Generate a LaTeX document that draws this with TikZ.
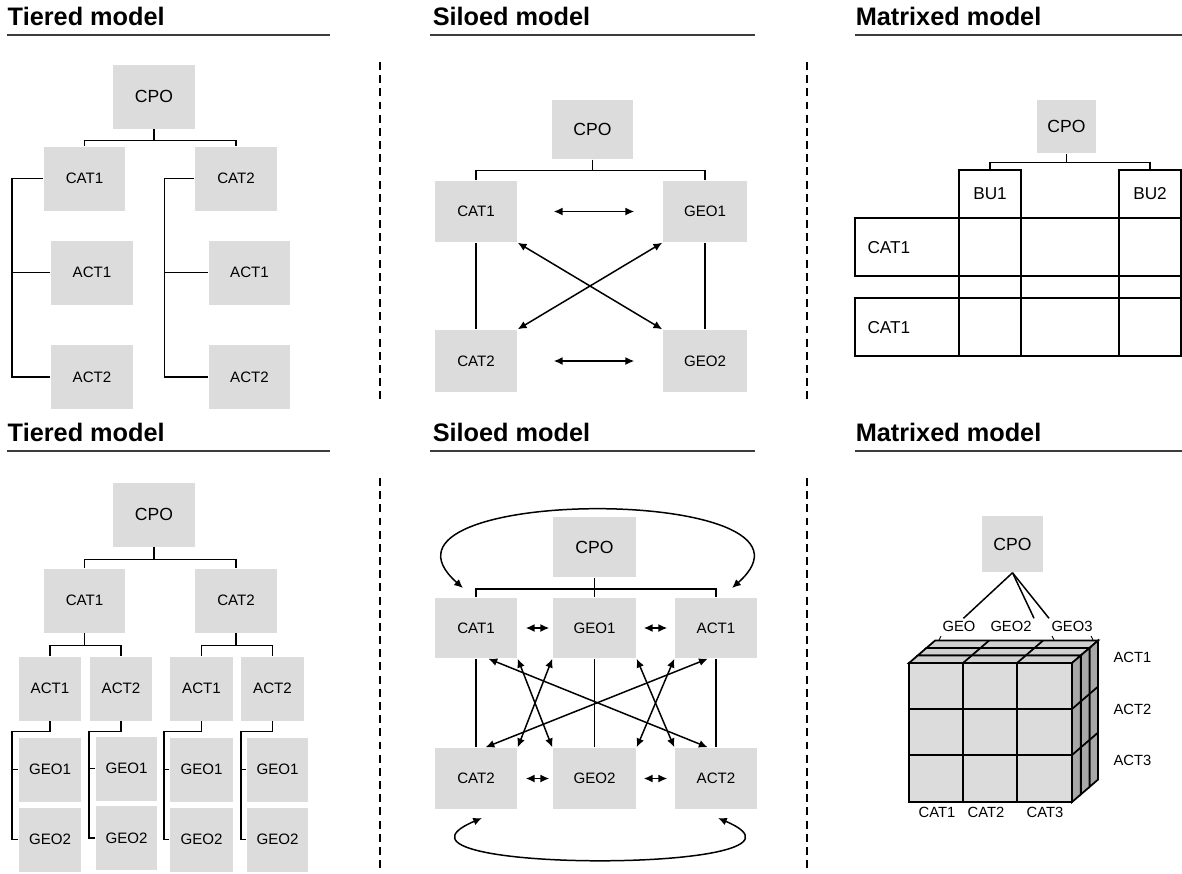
\documentclass[tikz,border=0pt]{standalone}
\usepackage{fontspec}
\setmainfont{Liberation Sans}
\usetikzlibrary{arrows.meta}
\definecolor{boxgray}{RGB}{220,220,220}
\definecolor{topgray}{RGB}{208,208,208}
\definecolor{sidegray}{RGB}{168,168,168}
\definecolor{rulegray}{RGB}{60,60,60}
\tikzset{
  box/.style={fill=boxgray, inner sep=0pt, minimum width=1.64cm, minimum height=1.28cm, font=\fontsize{8.6}{10}\selectfont},
  smallbox/.style={box, minimum width=1.26cm},
  bigtext/.style={font=\fontsize{10}{12}\selectfont},
  heading/.style={anchor=base west, inner sep=0pt, font=\fontsize{14.4}{16}\selectfont\bfseries},
  headrule/.style={line width=1.4pt, rulegray},
  divider/.style={dash pattern=on 4.5pt off 3pt, line width=0.7pt},
  lbl/.style={inner sep=1pt, font=\fontsize{8.4}{10}\selectfont},
  cell/.style={draw, inner sep=0pt, minimum width=1.24cm, minimum height=0.96cm, font=\fontsize{9.8}{11}\selectfont},
  twoway/.style={{Latex[length=5pt,width=4.5pt]}-{Latex[length=5pt,width=4.5pt]}},
}
\begin{document}
\begin{tikzpicture}[x=0.02cm, y=-0.02cm, line width=0.85pt]
\useasboundingbox (0,0) rectangle (1182,873);
\foreach \hx/\hy/\htext in {7/25/Tiered model, 432/25/Siloed model, 855/25/Matrixed model,
  7/441/Tiered model, 432/441/Siloed model, 855/441/Matrixed model}
\node[heading] (head-\hx-\hy) at (\hx,\hy) {\htext};
\foreach \ux/\uy/\uend in {7/35/330, 430/35/755, 855/35/1182, 7/451/330, 430/451/755, 855/451/1182}
\draw[headrule] (\ux,\uy) -- (\uend,\uy);
\foreach \dx in {380,807} {
\draw[divider] (\dx,62) -- (\dx,400);
\draw[divider] (\dx,478) -- (\dx,873);
}

% tiered, top
\node[box, bigtext] (a_cpo) at (154,96.5) {CPO};
\node[box] (a_cat1) at (84.5,178.5) {CAT1};
\node[box] (a_cat2) at (236,178.5) {CAT2};
\node[box] (a_act11) at (92,272.5) {ACT1};
\node[box] (a_act12) at (92,377) {ACT2};
\node[box] (a_act21) at (249.5,272.5) {ACT1};
\node[box] (a_act22) at (249.5,377) {ACT2};
\draw (a_cpo.south) -- ++(0,11) coordinate (a_bus);
\draw (a_cat1.north) |- (a_bus) -| (a_cat2.north);
\draw (a_cat1.west) -- ++(-31,0) coordinate (a_l1) |- (a_act12.west);
\draw (a_act11.west) -- (a_act11.west -| a_l1);
\draw (a_cat2.west) -- ++(-30,0) coordinate (a_l2) |- (a_act22.west);
\draw (a_act21.west) -- (a_act21.west -| a_l2);

% siloed, top
\node[box, bigtext, minimum width=1.62cm, minimum height=1.18cm] (b_cpo) at (592.5,129.5) {CPO};
\node[box, minimum height=1.22cm] (b_cat1) at (476,211.5) {CAT1};
\node[box, minimum height=1.22cm, minimum width=1.68cm] (b_geo1) at (705,211.5) {GEO1};
\node[box, minimum height=1.24cm] (b_cat2) at (476,361) {CAT2};
\node[box, minimum height=1.24cm, minimum width=1.68cm] (b_geo2) at (705,361) {GEO2};
\draw (b_cpo.south) -- ++(0,11) coordinate (b_bus);
\draw (b_cat1.north) |- (b_bus) -| (b_geo1.north);
\draw (b_cat1) -- (b_cat2);
\draw (b_geo1) -- (b_geo2);
\draw[twoway, shorten <=0.72cm, shorten >=0.56cm] (b_cat1) -- (b_geo1);
\draw[twoway, shorten <=0.72cm, shorten >=0.56cm] (b_cat2) -- (b_geo2);
\draw[twoway] (b_cat1.south east) -- (b_geo2.north west);
\draw[twoway] (b_geo1.south west) -- (b_cat2.north east);

% matrixed, top
\node[box, bigtext, minimum width=1.18cm, minimum height=1.06cm] (c_cpo) at (1066.5,126.5) {CPO};
\node[cell] (c_bu1) at (990,194) {BU1};
\node[cell] (c_bu2) at (1150,194) {BU2};
\draw (c_cpo.south) -- ++(0,9) coordinate (c_bus);
\draw (c_bu1.north) |- (c_bus) -| (c_bu2.north);
\draw (855,218) rectangle (1181,276);
\draw (855,298) rectangle (1181,356);
\foreach \gx in {959,1021,1119,1181}
\draw (\gx,218) -- (\gx,356);
\node[lbl, anchor=west, font=\fontsize{9.8}{11}\selectfont] (c_row1) at (865,248) {CAT1};
\node[lbl, anchor=west, font=\fontsize{9.8}{11}\selectfont] (c_row2) at (865,328) {CAT1};

% tiered, bottom
\node[box, bigtext] (d_cpo) at (154,514.5) {CPO};
\node[box] (d_cat1) at (84.5,600.5) {CAT1};
\node[box] (d_cat2) at (236,600.5) {CAT2};
\node[smallbox] (d_act11) at (50,688.5) {ACT1};
\node[smallbox] (d_act12) at (121,688.5) {ACT2};
\node[smallbox] (d_act21) at (201.5,688.5) {ACT1};
\node[smallbox] (d_act22) at (272.5,688.5) {ACT2};
\node[smallbox] (d_geo111) at (50,769.5) {GEO1};
\node[smallbox] (d_geo112) at (50,839.5) {GEO2};
\node[smallbox, minimum width=1.22cm] (d_geo121) at (126.5,768.5) {GEO1};
\node[smallbox, minimum width=1.22cm] (d_geo122) at (126.5,838) {GEO2};
\node[smallbox] (d_geo211) at (201.5,769.5) {GEO1};
\node[smallbox] (d_geo212) at (201.5,839.5) {GEO2};
\node[smallbox, minimum width=1.22cm] (d_geo221) at (277.5,769.5) {GEO1};
\node[smallbox, minimum width=1.22cm] (d_geo222) at (277.5,839.5) {GEO2};
\draw (d_cpo.south) -- ++(0,12) coordinate (d_bus);
\draw (d_cat1.north) |- (d_bus) -| (d_cat2.north);
\draw (d_cat1.south) -- ++(0,12) coordinate (d_bus1);
\draw (d_act11.north) |- (d_bus1) -| (d_act12.north);
\draw (d_cat2.south) -- ++(0,12) coordinate (d_bus2);
\draw (d_act21.north) |- (d_bus2) -| (d_act22.north);
\foreach \n/\kx in {11/-38, 12/-32, 21/-37.5, 22/-31.5} {
\draw (d_act\n.south) -- ++(0,10) -- ++(\kx,0) coordinate (d_k\n) |- (d_geo\n2.west);
\draw (d_geo\n1.west) -- (d_geo\n1.west -| d_k\n);
}

% siloed, bottom
\node[box, bigtext, minimum width=1.66cm, minimum height=1.2cm] (e_cpo) at (594.5,547) {CPO};
\node[box, minimum height=1.2cm] (e_cat1) at (476,628) {CAT1};
\node[box, minimum height=1.2cm, minimum width=1.66cm] (e_geo1) at (594.5,628) {GEO1};
\node[box, minimum height=1.2cm] (e_act1) at (716,628) {ACT1};
\node[box, minimum height=1.22cm] (e_cat2) at (476,778.5) {CAT2};
\node[box, minimum height=1.22cm, minimum width=1.66cm] (e_geo2) at (594.5,778.5) {GEO2};
\node[box, minimum height=1.22cm] (e_act2) at (716,778.5) {ACT2};
\draw (e_cpo.south) -- ++(0,11) coordinate (e_bus);
\draw (e_cat1.north) |- (e_bus) -| (e_act1.north);
\draw (e_cpo) -- (e_geo1);
\foreach \c in {cat,geo,act}
\draw (e_\c1) -- (e_\c2);
\draw[twoway, shorten <=0.16cm, shorten >=0.06cm] (e_cat1) -- (e_geo1);
\draw[twoway, shorten <=0.14cm, shorten >=0.14cm] (e_geo1) -- (e_act1);
\draw[twoway, shorten <=0.16cm, shorten >=0.06cm] (e_cat2) -- (e_geo2);
\draw[twoway, shorten <=0.14cm, shorten >=0.14cm] (e_geo2) -- (e_act2);
\draw[twoway] (e_cat1.-68) -- (e_act2.105);
\draw[twoway] (e_act1.-105) -- (e_cat2.73);
\draw[twoway] (e_cat1.south east) -- (e_geo2.north west);
\draw[twoway] (e_geo1.south west) -- (e_cat2.north east);
\draw[twoway] (e_geo1.south east) -- (e_act2.north west);
\draw[twoway] (e_act1.south west) -- (e_geo2.north east);
\coordinate (e_tl) at (463,588);
\coordinate (e_tr) at (732,588);
\coordinate (e_bl) at (482,818);
\coordinate (e_br) at (718,818);
\draw[twoway] (e_tl) .. controls (345,484) and (850,484) .. (e_tr);
\draw[twoway] (e_bl) .. controls (350,874) and (850,874) .. (e_br);

% matrixed, bottom
\node[box, bigtext, minimum width=1.22cm, minimum height=1.12cm] (f_cpo) at (1012.5,544) {CPO};
\node[lbl] (f_geo1) at (959,626) {GEO};
\node[lbl] (f_geo2) at (1011,626) {GEO2};
\node[lbl] (f_geo3) at (1072,626) {GEO3};
\draw (f_cpo.south) -- (f_geo1.60);
\draw (f_cpo.south) -- (f_geo2.north east);
\draw (f_cpo.south) -- (f_geo3.north west);
\draw[line width=0.5pt] (941,636) -- (939,640);
\draw[line width=0.5pt] (1052,636) -- (1054,640);
\draw[line width=0.5pt] (1091,636) -- (1093,640);
\foreach \k in {2,1,0} {
\begin{scope}[shift={(\k*8.7,-\k*7.5)}, line width=1pt]
\filldraw[fill=topgray] (909,663) -- (1072,663) -- ++(8.7,-7.5) -- (917.7,655.5) -- cycle;
\filldraw[fill=sidegray] (1072,663) -- (1072,802) -- ++(8.7,-7.5) -- (1080.7,655.5) -- cycle;
\filldraw[fill=boxgray] (909,663) rectangle (1072,802);
\foreach \cx in {963,1017} {
\draw (\cx,663) -- (\cx,802);
\draw (\cx,663) -- ++(8.7,-7.5);
}
\foreach \ry in {709,755} {
\draw (909,\ry) -- (1072,\ry);
\draw (1072,\ry) -- ++(8.7,-7.5);
}
\end{scope}
}
\node[lbl, anchor=west] (f_act1) at (1111,657) {ACT1};
\node[lbl, anchor=west] (f_act2) at (1111,709) {ACT2};
\node[lbl, anchor=west] (f_act3) at (1111,760) {ACT3};
\node[lbl] (f_cat1) at (937,812) {CAT1};
\node[lbl] (f_cat2) at (986,812) {CAT2};
\node[lbl] (f_cat3) at (1045,812) {CAT3};
\end{tikzpicture}
\end{document}
